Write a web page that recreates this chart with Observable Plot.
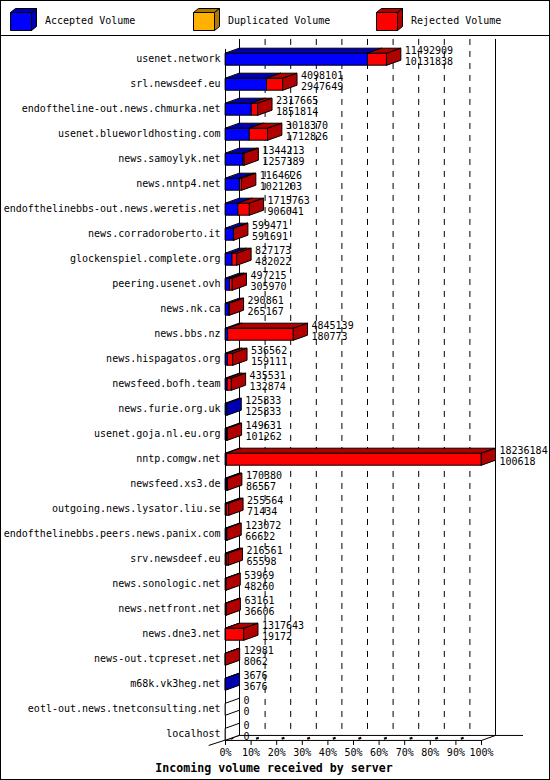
<!DOCTYPE html>
<html>
<head>
<meta charset="utf-8">
<script src="https://cdn.jsdelivr.net/npm/d3@7"></script>
<script src="https://cdn.jsdelivr.net/npm/@observablehq/plot@0.6"></script>
<style>
  body { margin: 0; background: #fff; }
  #wrap { position: relative; width: 550px; height: 780px; overflow: hidden; background: #fff;
          font-family: "DejaVu Sans Mono", monospace; color: #000; }
  #wrap svg.chart { position: absolute; left: 0; top: 0; }
  .border { position: absolute; left: 0; top: 0; width: 550px; height: 780px; box-sizing: border-box; border: 1px solid #000; pointer-events: none; }
  .sep { position: absolute; left: 0; top: 35px; width: 550px; height: 1px; background: #000; }
  .lgbox { position: absolute; top: 8px; }
  .lgtext { position: absolute; top: 14px; font-size: 10px; line-height: 13px; white-space: pre; }
  .title { position: absolute; left: 0; width: 548px; top: 761px; text-align: center; font-weight: bold; font-size: 11.6px; line-height: 14px; white-space: pre; }
</style>
</head>
<body>
<div id="wrap"></div>
<script>
// ---- data ----
const servers = [
  "usenet.network", "srl.newsdeef.eu", "endoftheline-out.news.chmurka.net",
  "usenet.blueworldhosting.com", "news.samoylyk.net", "news.nntp4.net",
  "endofthelinebbs-out.news.weretis.net", "news.corradoroberto.it",
  "glockenspiel.complete.org", "peering.usenet.ovh", "news.nk.ca", "news.bbs.nz",
  "news.hispagatos.org", "newsfeed.bofh.team", "news.furie.org.uk",
  "usenet.goja.nl.eu.org", "nntp.comgw.net", "newsfeed.xs3.de",
  "outgoing.news.lysator.liu.se", "endofthelinebbs.peers.news.panix.com",
  "srv.newsdeef.eu", "news.sonologic.net", "news.netfront.net", "news.dne3.net",
  "news-out.tcpreset.net", "m68k.vk3heg.net", "eotl-out.news.tnetconsulting.net",
  "localhost"
];
const totalVolume = [
  11492909, 4098101, 2317665, 3018370, 1344213, 1164626, 1715763, 599471,
  827173, 497215, 290861, 4845139, 536562, 435531, 125833, 149631, 18236184,
  170380, 255564, 123072, 216561, 53969, 63161, 1317643, 12981, 3676, 0, 0
];
const acceptedVolume = [
  10131838, 2947649, 1851814, 1712826, 1257389, 1021203, 906041, 591691,
  482022, 305970, 265167, 180773, 159111, 132874, 125833, 101262, 100618,
  86557, 71434, 66622, 65598, 48260, 36606, 19172, 8062, 3676, 0, 0
];
const legendLabels = ["Accepted Volume", "Duplicated Volume", "Rejected Volume"];
const legendColors = ["#0000ff", "#ffb000", "#ff0000"];
const legendShades = ["#0000b0", "#b07800", "#b00000"];
const tickValues = [0, 0.1, 0.2, 0.3, 0.4, 0.5, 0.6, 0.7, 0.8, 0.9, 1];
const tickLabels = ["0%", "10%", "20%", "30%", "40%", "50%", "60%", "70%", "80%", "90%", "100%"];
const chartTitle = "Incoming volume received by server";

// ---- layout constants ----
const xRange = [225, 481];
const yRange = [58.7, 733.7];
const n = servers.length;
const yStep = (yRange[1] - yRange[0]) / (n - 1);
const DX = 14, DY = 5;                       // 3D depth in px
const depthX = DX / (xRange[1] - xRange[0]);
const depthY = DY / yStep;
const halfBar = 6 / yStep;
const floorY = n - 1 + 6 / yStep + 0.01;     // front floor line
const topY = -0.59;

// ---- bar polygons ----
const maxTotal = d3.max(totalVolume);
const polys = [];
servers.forEach((s, i) => {
  const a = acceptedVolume[i] / maxTotal;
  const t = totalVolume[i] / maxTotal;
  const yT = i - halfBar, yB = i + halfBar, yBack = yT - depthY;
  const segs = [[0, a, 0], [a, t, 2]].filter(([x0, x1]) => x1 > x0);
  segs.forEach(([x0, x1, k], j) => {
    const idF = `${i}-f${j}`, idT = `${i}-t${j}`;
    [[x0, yT], [x1, yT], [x1, yB], [x0, yB]].forEach(([x, y]) => polys.push({id: idF, x, y, fill: legendColors[k]}));
    [[x0, yT], [x1, yT], [x1 + depthX, yBack], [x0 + depthX, yBack]].forEach(([x, y]) => polys.push({id: idT, x, y, fill: legendShades[k]}));
  });
  const sideFill = segs.length ? legendShades[segs[segs.length - 1][2]] : "white";
  [[t, yT], [t + depthX, yBack], [t + depthX, yB - depthY], [t, yB]].forEach(([x, y]) => polys.push({id: `${i}-s`, x, y, fill: sideFill}));
});

const rows = servers.map((s, i) => ({
  i, s, total: totalVolume[i], acc: acceptedVolume[i], end: totalVolume[i] / maxTotal + depthX
}));

const chart = Plot.plot({
  width: 550,
  height: 780,
  margin: 0,
  x: {type: "linear", domain: [0, 1], range: xRange, axis: null},
  y: {type: "linear", domain: [0, n - 1], range: yRange, axis: null},
  color: {type: "identity"},
  style: {fontFamily: "DejaVu Sans Mono", fontSize: "10px", background: "white", overflow: "visible", color: "black"},
  marks: [
    // back wall
    Plot.ruleX([0, 1], {x: d => d, y1: topY, y2: floorY, dx: DX, dy: -DY, stroke: "black"}),
    Plot.ruleX(tickValues.slice(1, -1), {x: d => d, y1: topY, y2: floorY, dx: DX, dy: -DY, stroke: "black", strokeDasharray: "6,6"}),
    Plot.ruleY([floorY], {x1: 0, x2: 1 + 2 * depthX, dx: DX, dy: -DY, stroke: "black"}),
    // front axes
    Plot.ruleY([floorY], {x1: 0, x2: 1, stroke: "black"}),
    Plot.ruleX([0], {y1: topY + depthY, y2: floorY, stroke: "black"}),
    Plot.link([0], {x1: -1.2 * depthX, y1: floorY + depthY, x2: depthX, y2: floorY - depthY, stroke: "black"}),
    Plot.link([1], {x1: 1, y1: floorY, x2: 1 + depthX, y2: floorY - depthY, stroke: "black"}),
    // ticks
    Plot.ruleX(tickValues, {x: d => d, y1: floorY, y2: floorY + depthY, stroke: "black"}),
    Plot.link(tickValues.slice(0, -1), {x1: d => d + 0.35 * depthX, y1: floorY - 0.35 * depthY, x2: d => d + 0.55 * depthX, y2: floorY - 0.55 * depthY, stroke: "black", strokeWidth: 2}),
    Plot.text(tickValues, {x: d => d, y: floorY, dy: 12.5, text: (d, k) => tickLabels[k], fill: "black", fontSize: 10}),
    // bars
    Plot.line(polys, {x: "x", y: "y", z: "id", fill: "fill", stroke: "black", strokeWidth: 1, strokeLinejoin: "miter", curve: "linear-closed"}),
    // labels
    Plot.text(rows, {x: 0, y: "i", dx: -5, text: "s", textAnchor: "end", fill: "black", fontSize: 10}),
    Plot.text(rows, {x: "end", y: "i", dx: 4, dy: -8.5, text: d => String(d.total), textAnchor: "start", fill: "black", fontSize: 10}),
    Plot.text(rows, {x: "end", y: "i", dx: 4, dy: 2.5, text: d => String(d.acc), textAnchor: "start", fill: "black", fontSize: 10})
  ]
});
chart.classList.add("chart");

const wrap = document.getElementById("wrap");
wrap.appendChild(chart);

// legend
const legendX = [10, 193, 376];
legendLabels.forEach((lab, k) => {
  const box = document.createElementNS("http://www.w3.org/2000/svg", "svg");
  box.setAttribute("class", "lgbox");
  box.setAttribute("width", 28);
  box.setAttribute("height", 24);
  box.style.left = legendX[k] + "px";
  box.innerHTML =
    `<g transform="translate(0.5,0.5)" stroke="black" stroke-width="1">
      <polygon points="0,4 21,4 21,22 0,22" fill="${legendColors[k]}"/>
      <polygon points="0,4 21,4 26,0 5,0" fill="${legendShades[k]}"/>
      <polygon points="21,4 26,0 26,18 21,22" fill="${legendShades[k]}"/>
    </g>`;
  wrap.appendChild(box);
  const tx = document.createElement("div");
  tx.className = "lgtext";
  tx.style.left = (legendX[k] + 35) + "px";
  tx.textContent = lab;
  wrap.appendChild(tx);
});
const sep = document.createElement("div"); sep.className = "sep"; wrap.appendChild(sep);
const title = document.createElement("div"); title.className = "title"; title.textContent = chartTitle; wrap.appendChild(title);
const border = document.createElement("div"); border.className = "border"; wrap.appendChild(border);
</script>
</body>
</html>
